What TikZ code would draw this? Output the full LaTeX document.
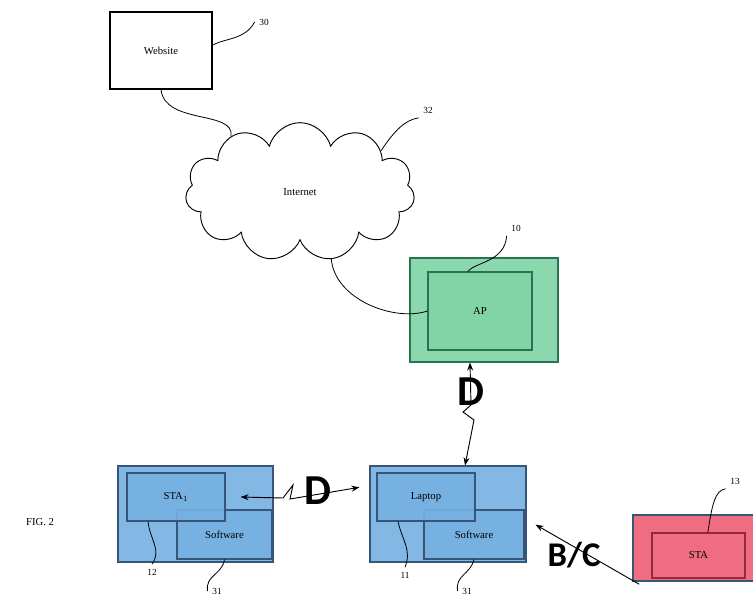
\documentclass[tikz,border=0pt]{standalone}
\usepackage{fontspec}
\setmainfont{Liberation Serif}
\newfontfamily\linkfont{Carlito}
\usetikzlibrary{shapes.symbols,arrows.meta}

\definecolor{apgreen}{RGB}{128,212,165}
\definecolor{apedge}{RGB}{40,115,80}
\definecolor{stablue}{RGB}{118,176,226}
\definecolor{staedge}{RGB}{55,85,120}
\definecolor{stared}{RGB}{240,108,128}
\definecolor{rededge}{RGB}{150,40,60}

\tikzset{
  unitbox/.style={draw, line width=0.8pt, inner sep=0pt, font=\footnotesize},
  bluebox/.style={unitbox, draw=staedge, fill=stablue, fill opacity=0.9, text opacity=1},
  greenbox/.style={unitbox, draw=apedge, fill=apgreen, fill opacity=0.9, text opacity=1},
  redbox/.style={unitbox, draw=rededge, fill=stared, text opacity=1},
  refnum/.style={font=\scriptsize},
  linklabel/.style={font=\linkfont\bfseries\fontsize{32}{32}\selectfont},
  wire/.style={line width=0.6pt},
  radiolink/.style={line width=0.7pt, -{Stealth[length=6pt]}}
}

\begin{document}
\begin{tikzpicture}[x=0.75pt,y=-0.75pt]
  \useasboundingbox (0,0) rectangle (753,602);

  % website and internet
  \node[unitbox, minimum width=76.5pt, minimum height=57.75pt] (web) at (161,50.5) {Website};
  \node[cloud, draw, line width=0.7pt, cloud puffs=11, aspect=1.6, minimum width=172pt, minimum height=104pt, font=\footnotesize] (net) at (300,192) {Internet};
  \draw[wire] (web.south) .. controls (165,125) and (235,110) .. (net.141);

  % access point
  \node[greenbox, minimum width=111pt, minimum height=78pt] (apout) at (484,310) {};
  \node[greenbox, minimum width=78pt, minimum height=58.5pt] (ap) at (480,311) {AP};
  \draw[wire] (net.-65) .. controls (335,300) and (395,322) .. (ap.west);

  % laptop
  \node[bluebox, minimum width=117pt, minimum height=72pt] (lapout) at (448,514) {};
  \node[bluebox, minimum width=75pt, minimum height=36.75pt] (lapsw) at (474,534.5) {Software};
  \node[bluebox, minimum width=73.5pt, minimum height=36pt] (laptop) at (426,497) {Laptop};

  % first station
  \node[bluebox, minimum width=116.25pt, minimum height=72pt] (staout) at (195.5,514) {};
  \node[bluebox, minimum width=71.25pt, minimum height=36.75pt] (stasw) at (224.5,534.5) {Software};
  \node[bluebox, minimum width=73.5pt, minimum height=36pt] (sta) at (176,497) {STA$_1$};

  % second station
  \node[redbox, draw=staedge, minimum width=102.75pt, minimum height=49.5pt] (redout) at (701.5,548) {};
  \node[redbox, minimum width=69.75pt, minimum height=33.75pt] (redsta) at (698.5,555.5) {STA};

  % links
  \draw[radiolink, {Stealth[length=6pt]}-{Stealth[length=6pt]}] ([xshift=-10.5pt]apout.south) -- (471,405) -- (463,412) -- (474,420) -- ([xshift=12.75pt]lapout.north);
  \node[linklabel] (d1) at (471,392) {D};
  \draw[radiolink, {Stealth[length=6pt]}-{Stealth[length=6pt]}] ([xshift=11.25pt]sta.east) -- (283,498) -- (293,485) -- (290,499) -- ([shift={(-7.5pt,20pt)}]lapout.west);
  \node[linklabel] (d2) at (318,491) {D};
  \draw[radiolink] ([shift={(5pt,-2pt)}]redout.south west) -- ([shift={(6.75pt,-8pt)}]lapout.east);
  \node[linklabel, font=\linkfont\bfseries\fontsize{26}{26}\selectfont] (bc) at (574,555) {B/C};

  % reference numerals
  \node[refnum] (n30) at (264,22) {30};
  \draw[wire] ([yshift=4pt]web.east) .. controls (225,38) and (245,40) .. (n30.west);
  \node[refnum] (n32) at (428,110) {32};
  \draw[wire] (net.27) .. controls (395,130) and (405,120) .. (n32.south west);
  \node[refnum] (n10) at (516,228) {10};
  \draw[wire] ([xshift=-9pt]ap.north) .. controls (475,262) and (505,262) .. (n10.south west);
  \node[refnum] (n13) at (735,481) {13};
  \draw[wire] ([xshift=7pt]redsta.north) .. controls (712,505) and (715,490) .. (n13.south west);
  \node[refnum] (n11) at (405,575) {11};
  \draw[wire] ([xshift=-21pt]laptop.south) .. controls (402,540) and (412,550) .. (n11.north);
  \node[refnum] (n12) at (152,572) {12};
  \draw[wire] ([xshift=-21pt]sta.south) .. controls (150,540) and (162,550) .. (n12.north);
  \node[refnum] (n31a) at (217,591) {31};
  \draw[wire] (stasw.south) .. controls (222,575) and (205,575) .. (n31a.west);
  \node[refnum] (n31b) at (467,591) {31};
  \draw[wire] (lapsw.south) .. controls (470,575) and (455,575) .. (n31b.west);

  \node[font=\footnotesize] (fig) at (40,522) {FIG. 2};
\end{tikzpicture}
\end{document}
